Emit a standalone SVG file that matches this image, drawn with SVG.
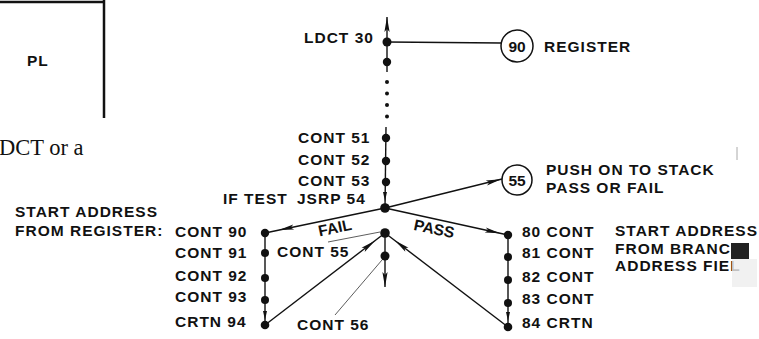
<svg xmlns="http://www.w3.org/2000/svg" width="759" height="339" viewBox="0 0 759 339">
<style>
.t{font-family:"Liberation Sans",Arial,sans-serif;font-weight:bold;font-size:15.5px;letter-spacing:1px;fill:#111}
.c{text-anchor:middle;letter-spacing:0}
.ln{stroke:#111;stroke-width:1.4;fill:none}
.thin{stroke:#333;stroke-width:0.8;fill:none}
.dot{fill:#111}
.ring{fill:#fff;stroke:#111;stroke-width:1.5}
</style>
<defs>
<path id="ah" d="M0,0 L-15,-2.6 L-12,0 L-15,2.6 Z" fill="#111"/>
<path id="ahs" d="M0,0 L-9,-2 L-9,2 Z" fill="#111"/>
</defs>
<rect width="759" height="339" fill="#fff"/>

<g id="box-pl">
<path d="M0,2 L105,2 M104,0 L104,118" stroke="#111" stroke-width="2.5" fill="none"/>
<text class="t" x="27" y="66">PL</text>
</g>
<text x="-1" y="155" font-family="'Liberation Serif','Times New Roman',serif" font-size="22.5" fill="#111">DCT or a</text>

<g id="connectors">
<path class="ln" d="M387,17 L387,72"/>
<use href="#ah" transform="translate(387,17) rotate(-90)"/>
<path class="ln" d="M387,42 L501,43"/>
<path class="ln" d="M386,127 L385,208"/>
<use href="#ahs" transform="translate(385,201) rotate(90)"/>
<path class="ln" d="M385,208 L502,179"/>
<use href="#ah" transform="translate(501,179.3) rotate(-13.9)"/>
<path class="ln" d="M385,208 L265,233"/>
<use href="#ah" transform="translate(279,230.1) rotate(168.2)"/>
<path class="ln" d="M385,208 L508,235"/>
<use href="#ah" transform="translate(500,233.2) rotate(12.4)"/>
<path class="ln" d="M265,233 L265,325"/>
<use href="#ahs" transform="translate(265,320) rotate(90)"/>
<path class="ln" d="M508,235 L508,327"/>
<use href="#ahs" transform="translate(508,321) rotate(90)"/>
<path class="ln" d="M265,325 L385,233"/>
<use href="#ah" transform="translate(375,240.7) rotate(-37.5)"/>
<path class="ln" d="M508,327 L385,233"/>
<use href="#ah" transform="translate(395,240.6) rotate(-142.6)"/>
<path class="ln" d="M385,233 L385,287"/>
<use href="#ah" transform="translate(385,287) rotate(90)"/>
<path class="thin" d="M335,315 L382,260"/>
<path class="thin" d="M328,242 L380,232"/>
</g>

<g id="ellipsis">
<circle class="dot" cx="387" cy="82" r="2"/>
<circle class="dot" cx="387" cy="93.5" r="2"/>
<circle class="dot" cx="387" cy="105" r="2"/>
<circle class="dot" cx="387" cy="116.5" r="2"/>
</g>

<g id="n-ldct30"><circle class="dot" cx="387" cy="42" r="4.5"/><text class="t" x="304" y="43">LDCT 30</text></g>
<g id="n-31"><circle class="dot" cx="387" cy="62" r="4.2"/></g>
<g id="n-reg90"><circle class="ring" cx="517" cy="46" r="16"/><text class="t c" x="517" y="51.5">90</text><text class="t" x="544" y="52">REGISTER</text></g>
<g id="n-cont51"><circle class="dot" cx="386" cy="138" r="4.2"/><text class="t" x="298" y="143">CONT 51</text></g>
<g id="n-cont52"><circle class="dot" cx="386" cy="161" r="4.2"/><text class="t" x="298" y="165">CONT 52</text></g>
<g id="n-cont53"><circle class="dot" cx="386" cy="182" r="4.2"/><text class="t" x="298" y="185.5">CONT 53</text></g>
<g id="n-jsrp54"><circle class="dot" cx="385" cy="208" r="4.8"/><text class="t" x="223" y="203.5">IF TEST</text><text class="t" x="297" y="203.5">JSRP 54</text></g>
<g id="n-stack55"><circle class="ring" cx="517" cy="180" r="15"/><text class="t c" x="517" y="185.5">55</text><text class="t" x="546" y="175">PUSH ON TO STACK</text><text class="t" x="546" y="193">PASS OR FAIL</text></g>
<g id="n-cont55"><circle class="dot" cx="385" cy="233" r="4.8"/><text class="t" x="277" y="257">CONT 55</text></g>
<g id="n-cont56"><circle class="dot" cx="385" cy="256" r="4.5"/><text class="t" x="297" y="330">CONT 56</text></g>
<g id="labels-branch">
<text class="t c" transform="translate(336,233) rotate(-12)">FAIL</text>
<text class="t c" transform="translate(433,234) rotate(12)">PASS</text>
</g>
<g id="left-col">
<text class="t" x="15" y="217">START ADDRESS</text>
<text class="t" x="15" y="236">FROM REGISTER:</text>
<g id="n-cont90"><circle class="dot" cx="265" cy="233" r="4.2"/><text class="t" x="175" y="237">CONT 90</text></g>
<g id="n-cont91"><circle class="dot" cx="265" cy="253" r="4"/><text class="t" x="175" y="258">CONT 91</text></g>
<g id="n-cont92"><circle class="dot" cx="265" cy="278" r="4"/><text class="t" x="175" y="281">CONT 92</text></g>
<g id="n-cont93"><circle class="dot" cx="265" cy="300" r="4"/><text class="t" x="175" y="302">CONT 93</text></g>
<g id="n-crtn94"><circle class="dot" cx="265" cy="325" r="4.3"/><text class="t" x="175" y="327">CRTN 94</text></g>
</g>
<g id="right-col">
<g id="n-80"><circle class="dot" cx="508" cy="235" r="4.2"/><text class="t" x="522" y="237">80 CONT</text></g>
<g id="n-81"><circle class="dot" cx="508" cy="257" r="4"/><text class="t" x="522" y="258">81 CONT</text></g>
<g id="n-82"><circle class="dot" cx="508" cy="280" r="4"/><text class="t" x="522" y="282">82 CONT</text></g>
<g id="n-83"><circle class="dot" cx="508" cy="303" r="4"/><text class="t" x="522" y="304">83 CONT</text></g>
<g id="n-84"><circle class="dot" cx="508" cy="327" r="4.3"/><text class="t" x="522" y="328">84 CRTN</text></g>
<text class="t" x="615" y="236">START ADDRESS</text>
<text class="t" x="615" y="253.5">FROM BRANC</text>
<text class="t" x="615" y="271">ADDRESS FIEL</text>
</g>
<g id="scan-marks">
<rect x="731" y="243" width="18" height="16" fill="#222"/>
<rect x="732" y="259" width="25" height="28" fill="#eee" opacity="0.8"/>
<path d="M737,147 L737,160" stroke="#aaa" stroke-width="1"/>
</g>
</svg>
